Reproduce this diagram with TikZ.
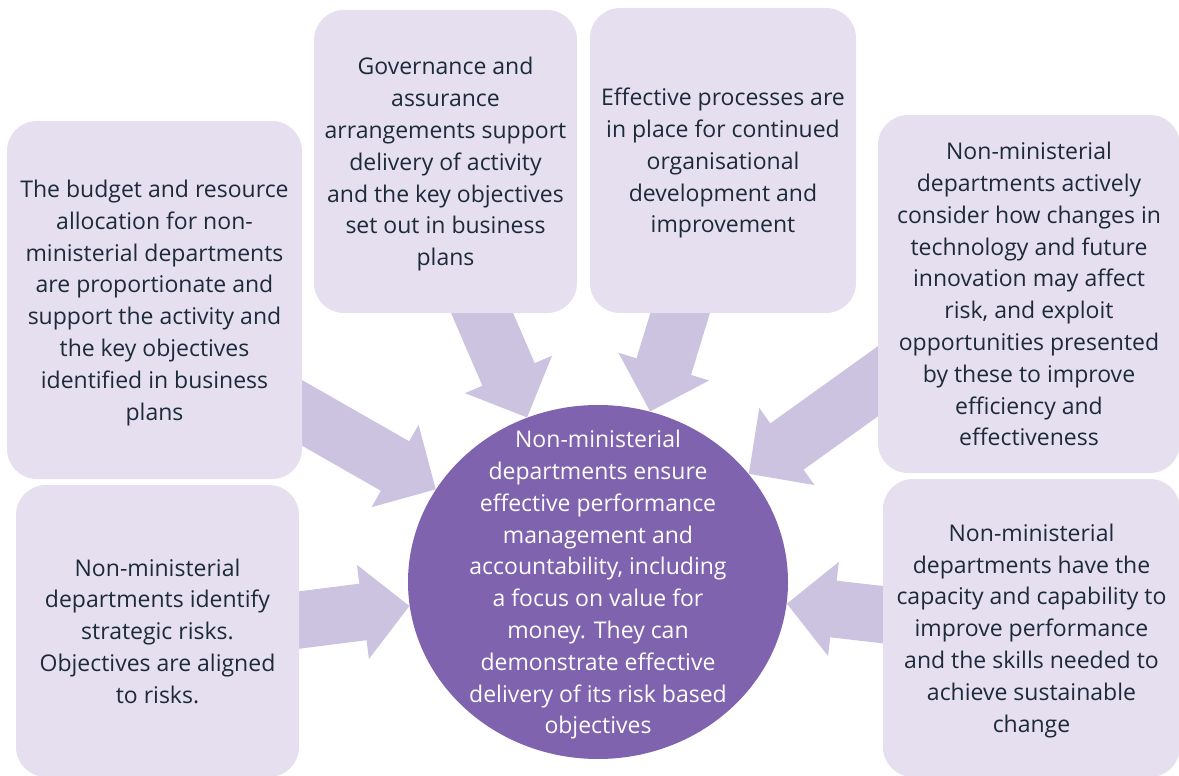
\documentclass[tikz,border=0pt]{standalone}
\usepackage{fontspec}
\setmainfont{Open Sans}
\usetikzlibrary{arrows.meta,shapes.geometric}
\definecolor{boxfill}{HTML}{E6DFF0}
\definecolor{flowfill}{HTML}{CCC3E1}
\definecolor{hubfill}{HTML}{7F63AF}
\definecolor{textdark}{HTML}{1C2A39}
\begin{document}
\begin{tikzpicture}[x=1pt,y=-1pt,
	outcome/.style={rectangle,rounded corners=30pt,fill=boxfill,text=textdark,align=center,inner sep=0pt,text depth=0pt,font=\fontsize{23}{31.8}\selectfont},
	flow/.style={draw=flowfill,line width=57pt,-{Triangle[length=47pt,width=92pt]}},
	hubnode/.style={ellipse,fill=hubfill,text=white,align=center,inner xsep=0pt,inner ysep=-45pt,text depth=0pt,minimum width=380pt,minimum height=354pt,font=\fontsize{23}{31.8}\selectfont}]
\useasboundingbox (0,0) rectangle (1179,776);
% centre
\node[hubnode] (hub) at (598,582) {Non-ministerial\\departments ensure\\effective performance\\management and\\accountability, including\\a focus on value for\\money. They can\\demonstrate effective\\delivery of its risk based\\objectives};
% arrow tails, hidden under the boxes
\coordinate (tBudget) at (276,398);
\coordinate (tGovern) at (470,285);
\coordinate (tProcess) at (689,284);
\coordinate (tTech) at (902,364);
\coordinate (tRisk) at (268,624);
\coordinate (tSkills) at (912,618);
\foreach \t in {tBudget,tGovern,tProcess,tTech,tRisk,tSkills}{
	\draw[flow] (\t) -- (hub);}
% outer boxes
\node[outcome,minimum width=295pt,minimum height=358pt] (budget) at (154.5,300) {The budget and resource\\allocation for non-\\ministerial departments\\are proportionate and\\support the activity and\\the key objectives\\identified in business\\plans};
\node[outcome,minimum width=263pt,minimum height=303pt] (govern) at (445.5,161.5) {Governance and\\assurance\\arrangements support\\delivery of activity\\and the key objectives\\set out in business\\plans};
\node[outcome,minimum width=266pt,minimum height=305pt] (process) at (723,160.5) {Effective processes are\\in place for continued\\organisational\\development and\\improvement};
\node[outcome,minimum width=302pt,minimum height=358pt] (tech) at (1029,294) {Non-ministerial\\departments actively\\consider how changes in\\technology and future\\innovation may affect\\risk, and exploit\\opportunities presented\\by these to improve\\efficiency and\\effectiveness};
\node[outcome,minimum width=283pt,minimum height=292pt] (risk) at (157.5,631) {Non-ministerial\\departments identify\\strategic risks.\\Objectives are aligned\\to risks.};
\node[outcome,minimum width=297pt,minimum height=298pt] (skills) at (1031.5,628) {Non-ministerial\\departments have the\\capacity and capability to\\improve performance\\and the skills needed to\\achieve sustainable\\change};
\end{tikzpicture}
\end{document}
